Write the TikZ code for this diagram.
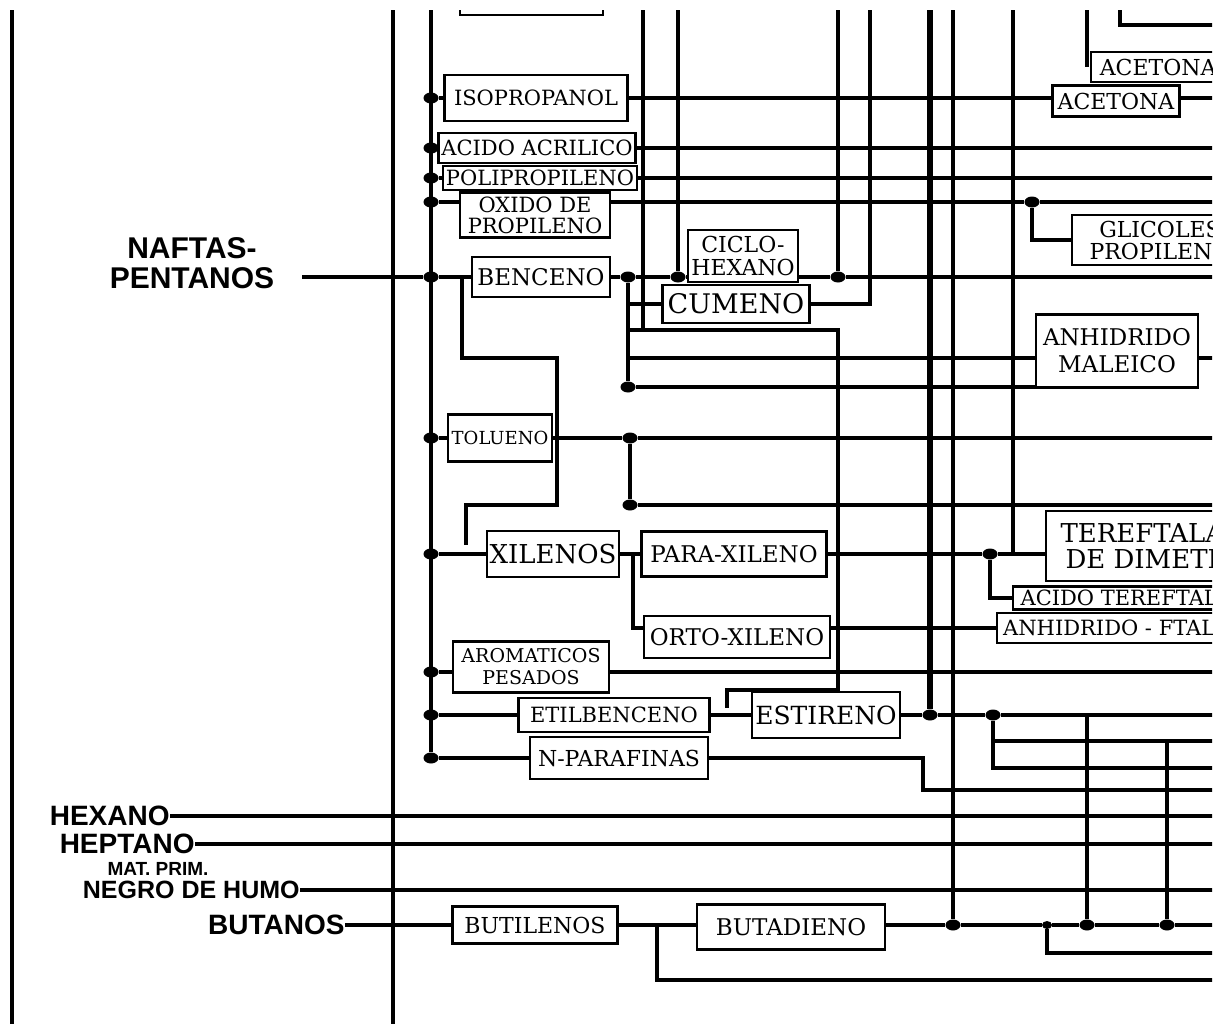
\documentclass[tikz,border=0pt]{standalone}
\usepackage{fontspec}
\setmainfont{DejaVu Serif}
\newfontfamily\feedfont{Liberation Sans}
\usetikzlibrary{shapes.geometric, positioning, calc}

\tikzset{
    prod/.style={
        rectangle, draw=black, line width=1.1pt, inner sep=0pt,
        align=center, font=\fontsize{#1}{#1}\selectfont
    },
    feed/.style={
        inner sep=0pt, align=center,
        font=\feedfont\bfseries\fontsize{#1}{#1}\selectfont
    },
    jn/.style={
        ellipse, fill=black, inner sep=0pt,
        minimum width=7.5pt, minimum height=5.5pt
    },
    flow/.style={line width=1.8pt},
    rail/.style={line width=1.6pt},
    heavy/.style={line width=3.4pt}
}

\begin{document}
\begin{tikzpicture}[x=0.5pt, y=-0.5pt]
    \fill[white, use as bounding box] (0,0) rectangle (1219,1023);
    \clip (0,10) rectangle (1212,1023);

    % EDGES AND FRAME
    \coordinate (tedge) at (0,10);
    \coordinate (bedge) at (0,1030);
    \coordinate (redge) at (1230,0);
    \coordinate (lframe) at (12,10);
    \coordinate (mframe) at (393,10);
    \draw[rail] (lframe) -- (lframe |- bedge);
    \draw[rail] (mframe) -- (mframe |- bedge);

    % FEEDSTOCKS
    \node[feed=15] (naf) at (192,263) {NAFTAS-\\PENTANOS};
    \node[feed=14, anchor=east] (hex) at (170,816) {HEXANO};
    \node[feed=14, anchor=east] (hep) at (195,844) {HEPTANO};
    \node[feed=9.5] (mat) at (158,869) {MAT. PRIM.};
    \node[feed=12.5, anchor=east] (ngr) at (300,890) {NEGRO DE HUMO};
    \node[feed=14, anchor=east] (bun) at (345,925) {BUTANOS};

    % PROPYLENE PRODUCTS
    \draw[line width=1.1pt] (460,-20) rectangle (603,15);
    \node[prod=10.5, minimum width=91.5pt, minimum height=23pt] (iso) at (536,98) {ISOPROPANOL};
    \node[prod=10.5, minimum width=98.5pt, minimum height=15pt] (acr) at (537,148) {ACIDO ACRILICO};
    \node[prod=10.5, minimum width=97pt, minimum height=12pt] (pp) at (540,178) {POLIPROPILENO};
    \node[prod=10.5, minimum width=75pt, minimum height=22.5pt] (oxp) at (535,215) {OXIDO DE\\PROPILENO};
    \node[prod=11, minimum width=63.5pt, minimum height=15.5pt] (ace) at (1116,101) {ACETONA};
    \node[prod=11, minimum width=67pt, minimum height=15pt, anchor=west] (acu) at (1090,67) {ACETONA};
    \node[prod=11, minimum width=88pt, minimum height=25pt] (gly) at (1160,240) {GLICOLES\\PROPILENO};

    % AROMATICS
    \node[prod=11.5, minimum width=69pt, minimum height=20pt] (bz) at (541,277) {BENCENO};
    \node[prod=11, minimum width=55pt, minimum height=26pt] (cyc) at (743,256) {CICLO-\\[0.5pt]HEXANO};
    \node[prod=13.5, minimum width=73.5pt, minimum height=19pt] (cum) at (736,304) {CUMENO};
    \node[prod=11.5, minimum width=81pt, minimum height=36.5pt] (anm) at (1117,351) {ANHIDRIDO\\[2pt]MALEICO};
    \node[prod=9, minimum width=52pt, minimum height=23.5pt] (tol) at (500,438) {TOLUENO};
    \node[prod=13, minimum width=66pt, minimum height=23pt] (xil) at (553,554) {XILENOS};
    \node[prod=11.5, minimum width=92.5pt, minimum height=22.5pt] (pxy) at (734,554) {PARA-XILENO};
    \node[prod=11.5, minimum width=93pt, minimum height=21pt] (oxy) at (737,637) {ORTO-XILENO};
    \node[prod=13, minimum width=115pt, minimum height=35pt] (dmt) at (1161,546) {TEREFTALATO\\DE DIMETILO};
    \node[prod=10.5, minimum width=127pt, minimum height=11.5pt] (atf) at (1140,598) {ACIDO TEREFTALICO};
    \node[prod=10.5, minimum width=133pt, minimum height=15pt] (aft) at (1130,628) {ANHIDRIDO - FTALICO};
    \node[prod=9.5, minimum width=78pt, minimum height=25.5pt] (aro) at (531,667) {AROMATICOS\\[1.5pt]PESADOS};
    \node[prod=10.5, minimum width=95.5pt, minimum height=17pt] (etb) at (614,715) {ETILBENCENO};
    \node[prod=12.5, minimum width=74pt, minimum height=23pt] (est) at (826,715) {ESTIRENO};
    \node[prod=11, minimum width=89pt, minimum height=21pt] (npf) at (619,758) {N-PARAFINAS};

    % C4 PRODUCTS
    \node[prod=11, minimum width=82.5pt, minimum height=18.5pt] (but) at (535,925) {BUTILENOS};
    \node[prod=11.5, minimum width=94pt, minimum height=22.5pt] (bdn) at (791,927) {BUTADIENO};

    % JUNCTIONS
    \node[jn] (jiso) at (431,98) {};
    \node[jn] (jacr) at (431,148) {};
    \node[jn] (jpp) at (431,178) {};
    \node[jn] (jox) at (431,202) {};
    \node[jn] (jbz) at (431,277) {};
    \node[jn] (jtol) at (431,438) {};
    \node[jn] (jxil) at (431,554) {};
    \node[jn] (jaro) at (431,672) {};
    \node[jn] (jetb) at (431,715) {};
    \node[jn] (jnpf) at (431,758) {};
    \node[jn] (jb1) at (628,277) {};
    \node[jn] (jb2) at (678,277) {};
    \node[jn] (jb3) at (838,277) {};
    \node[jn] (jb4) at (628,387) {};
    \node[jn] (jt1) at (630,438) {};
    \node[jn] (jt2) at (630,505) {};
    \node[jn] (jo2) at (1032,202) {};
    \node[jn] (jp1) at (990,554) {};
    \node[jn] (je1) at (930,715) {};
    \node[jn] (je2) at (993,715) {};
    \node[jn] (jd1) at (953,925) {};
    \node[jn, minimum width=5pt, minimum height=4pt] (jd2) at (1047,925) {};
    \node[jn] (jd3) at (1087,925) {};
    \node[jn] (jd4) at (1167,925) {};

    % FREE ENDS
    \coordinate (nafin) at (302,277);
    \coordinate (bustop) at (431,10);
    \coordinate (lp0) at (462,277);
    \coordinate (lpe) at (466,545);
    \coordinate (k330) at (628,330);
    \coordinate (sty) at (727,708);
    \coordinate (c643) at (643,10);
    \coordinate (c870) at (870,10);
    \coordinate (c930) at (930,10);
    \coordinate (c953) at (953,10);
    \coordinate (c1013) at (1013,10);
    \coordinate (acin) at (1087,10);
    \coordinate (acin2) at (1120,10);
    \coordinate (ac2r) at (1230,25);
    \coordinate (k358) at (628,358);
    \coordinate (xb) at (633,554);
    \coordinate (k628) at (633,628);
    \coordinate (k741) at (993,741);
    \coordinate (k768) at (993,768);
    \coordinate (k1087) at (1087,715);
    \coordinate (k1167) at (1167,741);
    \coordinate (k790) at (923,790);
    \coordinate (kb) at (657,925);
    \coordinate (kb980) at (657,980);
    \coordinate (k953) at (1047,953);

    % feed lines
    \draw[flow] (nafin) -- (jbz) -- (bz.west);
    \draw[flow] (bustop) -- (jnpf);
    \draw[flow] (hex.east) -- (hex.east -| redge);
    \draw[flow] (hep.east) -- (hep.east -| redge);
    \draw[flow] (ngr.east) -- (ngr.east -| redge);
    \draw[flow] (bun.east) -- (bun.east -| but.west);

    % propylene lines
    \draw[flow] (jiso) -- (iso.west);
    \draw[flow] (iso.east) -- (iso.east -| ace.west);
    \draw[flow] (ace.east |- iso.east) -- (iso.east -| redge);
    \draw[flow] (acin) -- (acin |- acu.west);
    \draw[flow] (acin2) |- (ac2r);
    \draw[flow] (jacr) -- (acr.west);
    \draw[flow] (acr.east) -- (acr.east -| redge);
    \draw[flow] (jpp) -- (pp.west);
    \draw[flow] (pp.east) -- (pp.east -| redge);
    \draw[flow] (jox) -- (jox -| oxp.west);
    \draw[flow] (oxp.east |- jox) -- (jo2) -- (jox -| redge);
    \draw[flow] (jo2) |- (gly.west);

    % benzene lines
    \draw[flow] (bz.east) -- (jb1) -- (jb2) -- (jb2 -| cyc.west);
    \draw[flow] (cyc.east |- jb3) -- (jb3) -- (jb3 -| redge);
    \draw[flow] (jb2 |- tedge) -- (jb2);
    \draw[flow] (jb3 |- tedge) -- (jb3);
    \draw[flow] (jb1) -- (jb4) -- (jb4 -| anm.west);
    \draw[flow] (cum.west -| jb1) -- (cum.west);
    \draw[flow] (cum.east) -| (c870);
    \draw[flow] (c643) -- (c643 |- k330);
    \draw[flow] (k330) -- (838,330) -- (838,690) -| (sty);
    \draw[flow] (k358) -- (k358 -| anm.west);
    \draw[flow] (anm.east |- k358) -- (k358 -| redge);
    \draw[flow] (lp0) -- (462,358) -- (557,358) -- (557,505) -- (466,505) -- (lpe);

    % toluene and xylenes
    \draw[flow] (jtol) -- (tol.west);
    \draw[flow] (tol.east) -- (jt1) -- (jt1 -| redge);
    \draw[flow] (jt1) -- (jt2) -- (jt2 -| redge);
    \draw[flow] (jxil) -- (xil.west);
    \draw[flow] (xil.east) -- (pxy.west);
    \draw[flow] (xb) -- (k628) -- (k628 -| oxy.west);
    \draw[flow] (oxy.east |- k628) -- (aft.west);
    \draw[flow] (pxy.east) -- (jp1) -- (jp1 -| dmt.west);
    \draw[flow] (jp1) |- (atf.west);
    \draw[flow] (c1013) -- (c1013 |- jp1);

    % heavy aromatics, styrene, paraffins
    \draw[flow] (jaro) -- (jaro -| aro.west);
    \draw[flow] (aro.east |- jaro) -- (jaro -| redge);
    \draw[flow] (jetb) -- (etb.west);
    \draw[flow] (etb.east) -- (est.west);
    \draw[flow] (est.east) -- (je1) -- (je2) -- (je2 -| redge);
    \draw[heavy] (c930) -- (je1);
    \draw[flow] (je2) -- (k768) -- (k768 -| redge);
    \draw[flow] (k741) -- (k741 -| redge);
    \draw[flow] (k1087) -- (jd3);
    \draw[flow] (k1167) -- (jd4);
    \draw[flow] (jnpf) -- (npf.west);
    \draw[flow] (npf.east) -| (k790) -- (k790 -| redge);

    % butane lines
    \draw[flow] (but.east) -- (but.east -| bdn.west);
    \draw[flow] (kb) -- (kb980) -- (kb980 -| redge);
    \draw[flow] (bdn.east |- jd1) -- (jd1) -- (jd2) -- (jd3) -- (jd4) -- (jd4 -| redge);
    \draw[flow] (c953) -- (jd1);
    \draw[flow] (jd2) -- (k953) -- (k953 -| redge);

\end{tikzpicture}
\end{document}
